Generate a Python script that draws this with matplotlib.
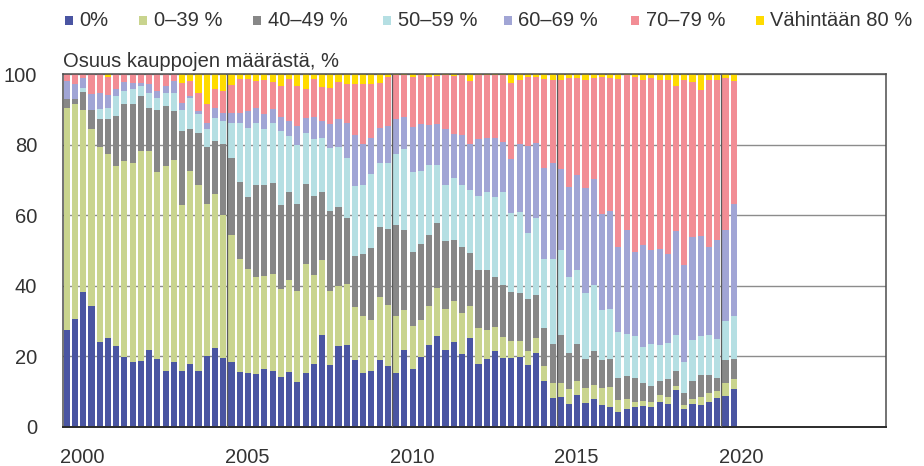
import numpy as np
import matplotlib
matplotlib.use("Agg")
import matplotlib.pyplot as plt
from matplotlib.patches import Rectangle

# ---------------- data (quarterly, 2000Q1 - 2020Q2), % of transactions ----------------
first_year = 2000
n_quarters = 82
year_ticks = [2000, 2005, 2010, 2015, 2020]
series_labels = ["0%", "0\u201339 %", "40\u201349 %", "50\u201359 %", "60\u201369 %", "70\u201379 %", "V\u00e4hint\u00e4\u00e4n 80 %"]

share_0 = [27.3, 30.6, 38.3, 34.3, 24.1, 25.1, 23.0, 19.9, 18.5, 18.7, 21.8, 19.1, 15.9, 18.5, 15.9, 17.7, 15.9, 20.1, 22.2, 19.4,
           18.3, 15.5, 15.2, 15.0, 16.4, 15.9, 14.0, 15.5, 12.7, 15.2, 17.8, 26.1, 17.5, 22.9, 23.2, 19.0, 15.2, 15.9, 19.0, 17.3,
           15.2, 21.8, 16.4, 19.9, 23.2, 25.6, 21.8, 23.9, 20.6, 25.1, 17.8, 19.2, 21.5, 19.4, 19.4, 19.9, 17.5, 20.9, 13.1, 8.1,
           8.3, 6.4, 9.0, 6.6, 7.8, 6.2, 5.7, 4.1, 5.0, 5.5, 6.0, 5.5, 6.9, 6.4, 10.4, 5.0, 6.4, 6.2, 6.9, 8.2, 8.7, 10.6]
share_0_39 = [63.2, 60.9, 51.6, 50.1, 55.2, 52.2, 51.1, 55.5, 56.4, 59.5, 56.4, 53.1, 58.2, 57.3, 47.1, 54.8, 52.8, 43.2, 43.7, 40.8,
              36.0, 32.2, 29.6, 27.4, 26.3, 27.4, 25.2, 26.2, 25.9, 31.0, 25.3, 21.3, 21.1, 16.9, 17.4, 15.1, 16.3, 14.4, 17.7, 17.3,
              16.3, 11.2, 12.3, 10.4, 11.1, 13.7, 11.6, 11.9, 11.6, 9.2, 10.2, 8.3, 6.7, 6.0, 5.0, 4.5, 4.0, 4.2, 4.0, 4.2,
              4.2, 4.3, 4.1, 4.3, 4.0, 4.7, 5.7, 3.5, 2.9, 1.4, 1.3, 1.4, 2.1, 1.9, 1.2, 1.2, 1.5, 2.1, 2.8, 1.9, 3.8, 2.9]
share_40_49 = [2.6, 1.6, 5.2, 5.6, 7.9, 9.9, 14.1, 16.1, 16.6, 15.6, 12.3, 17.8, 16.9, 13.8, 20.9, 12.1, 14.7, 16.1, 15.1, 19.9,
               22.0, 21.8, 20.4, 26.3, 25.8, 25.9, 23.8, 24.8, 24.7, 22.8, 22.5, 19.2, 22.5, 22.5, 18.5, 14.2, 17.5, 20.4, 20.0, 21.6,
               25.7, 22.7, 20.8, 21.5, 20.0, 18.5, 19.4, 17.3, 18.8, 15.0, 16.5, 17.0, 14.3, 14.9, 13.8, 13.5, 14.7, 12.3, 10.9, 11.1,
               13.6, 10.2, 10.4, 8.3, 9.7, 7.9, 7.8, 6.1, 6.5, 6.8, 5.2, 4.7, 4.1, 5.2, 4.2, 3.3, 5.2, 6.4, 5.0, 3.8, 6.3, 5.6]
share_50_59 = [0.0, 0.0, 1.1, 0.0, 3.0, 3.3, 5.6, 3.8, 4.2, 2.9, 4.3, 3.4, 3.8, 5.2, 6.1, 8.8, 5.2, 5.0, 6.7, 6.6,
               9.8, 16.8, 19.6, 17.6, 16.1, 17.1, 20.9, 16.0, 16.5, 14.4, 15.9, 15.4, 18.0, 17.1, 17.2, 19.9, 19.7, 20.9, 18.0, 18.5,
               20.1, 23.0, 22.7, 20.9, 20.1, 16.6, 15.9, 17.5, 17.7, 18.0, 21.1, 22.0, 22.6, 26.2, 22.5, 23.0, 18.8, 21.7, 19.6, 24.2,
               24.1, 21.6, 20.9, 18.7, 18.8, 14.2, 14.2, 13.3, 12.0, 12.1, 10.1, 11.9, 10.1, 10.2, 10.3, 9.0, 11.4, 10.9, 11.2, 11.0, 11.1, 12.2]
share_60_69 = [5.0, 4.1, 2.7, 4.3, 4.6, 3.5, 1.9, 2.5, 1.9, 0.9, 2.4, 1.9, 1.9, 3.3, 1.9, 0.4, 1.0, 1.9, 2.8, 2.4,
               3.0, 2.6, 4.8, 4.0, 4.0, 3.9, 4.1, 4.2, 5.5, 4.3, 6.5, 4.7, 6.7, 8.0, 10.0, 14.7, 11.4, 10.4, 10.1, 10.6,
               10.1, 9.3, 12.8, 13.1, 11.1, 11.4, 15.8, 12.6, 14.0, 12.8, 15.9, 15.5, 16.9, 14.3, 15.3, 19.2, 24.6, 21.3, 25.9, 27.3,
               22.8, 25.5, 27.0, 29.7, 30.1, 27.4, 27.7, 23.9, 29.3, 23.7, 29.1, 26.5, 27.2, 25.3, 29.4, 27.3, 29.2, 28.4, 25.1, 28.2, 26.0, 32.0]
share_70_79 = [1.9, 2.8, 1.1, 5.7, 5.2, 5.3, 4.3, 2.2, 2.4, 2.4, 2.8, 4.7, 3.3, 1.9, 5.7, 4.3, 5.2, 5.2, 5.2, 6.2,
               7.8, 9.7, 9.0, 7.8, 9.7, 7.6, 8.7, 11.9, 11.4, 8.2, 10.6, 9.8, 10.4, 10.5, 10.9, 14.3, 17.1, 15.2, 12.8, 14.0,
               12.3, 11.7, 14.3, 13.9, 13.8, 13.7, 15.2, 16.3, 17.0, 18.0, 18.2, 17.7, 17.7, 18.9, 21.6, 18.2, 19.7, 18.9, 25.3, 23.5,
               25.4, 31.0, 27.6, 30.8, 28.5, 38.9, 37.9, 47.7, 44.0, 49.8, 46.7, 49.0, 48.0, 49.4, 41.2, 52.6, 44.1, 41.5, 47.4, 45.3, 43.1, 34.8]
share_80_plus = [0.0, 0.0, 0.0, 0.0, 0.0, 0.7, 0.0, 0.0, 0.0, 0.0, 0.0, 0.0, 0.0, 0.0, 2.4, 1.9, 5.2, 8.5, 4.3, 4.7,
                 3.1, 1.4, 1.4, 1.9, 1.7, 2.2, 3.3, 1.4, 3.3, 4.1, 1.4, 3.5, 3.8, 2.1, 2.8, 2.8, 2.8, 2.8, 2.4, 0.7,
                 0.3, 0.3, 0.7, 0.3, 0.7, 0.5, 0.3, 0.5, 0.3, 1.9, 0.3, 0.3, 0.3, 0.3, 2.4, 1.7, 0.7, 0.7, 1.2, 1.6,
                 1.6, 1.0, 1.0, 1.6, 1.1, 0.7, 1.0, 1.4, 0.3, 0.7, 1.6, 1.0, 1.6, 1.6, 3.3, 1.6, 2.2, 4.5, 1.6, 1.6, 1.0, 1.9]

series = [share_0, share_0_39, share_40_49, share_50_59, share_60_69, share_70_79, share_80_plus]
colors = ["#4a55a2", "#c9d48e", "#878787", "#b5dfe3", "#a1a5d5", "#f28d95", "#ffdb00"]

# ---------------- figure ----------------
plt.rcParams["font.family"] = ["Liberation Sans", "DejaVu Sans"]
text_color = "#333333"
fs = 14.5

W, H = 924, 466
fig = plt.figure(figsize=(W / 100, H / 100), dpi=100)
ax = fig.add_axes([62.7 / W, 1 - 426.7 / H, (886 - 62.7) / W, (426.7 - 74.3) / H])

x = first_year + (np.arange(n_quarters) + 0.5) / 4.0
bottom = np.zeros(n_quarters)
for vals, col in zip(series, colors):
    v = np.array(vals)
    ax.bar(x, v, width=0.185, bottom=bottom, color=col, linewidth=0, zorder=2)
    bottom += v

ax.set_xlim(2000, 2025)
ax.set_ylim(0, 100)
ax.set_yticks([0, 20, 40, 60, 80, 100])
ax.set_xticks([y + 0.6 for y in year_ticks])
ax.set_xticklabels([str(y) for y in year_ticks])
ax.tick_params(axis="both", length=0, labelsize=fs, colors=text_color)
ax.tick_params(axis="y", pad=18.5)
ax.tick_params(axis="x", pad=15)

ax.yaxis.grid(True, color="#8c8c8c", linewidth=1.0, zorder=0)
ax.set_axisbelow(True)
for yr in year_ticks[1:]:
    ax.axvline(yr, color="#5a5a5a", linewidth=0.9, zorder=3)

for side in ["left", "right", "top", "bottom"]:
    ax.spines[side].set_color("#4d4d4d")
    ax.spines[side].set_linewidth(1.1)
ax.spines["bottom"].set_color("#2b2b2b")
ax.spines["bottom"].set_linewidth(1.4)

fig.text(62.7 / W, 1 - 66.7 / H, "Osuus kauppojen m\u00e4\u00e4r\u00e4st\u00e4, %", fontsize=fs,
         color=text_color, ha="left", va="baseline")

# legend drawn manually
marker_left = [65, 139, 253, 383, 504, 631, 756]
for ml, lab, col in zip(marker_left, series_labels, colors):
    fig.patches.append(Rectangle((ml / W, 1 - 24.5 / H), 8 / W, 8 / H, transform=fig.transFigure,
                                 facecolor=col, edgecolor="none"))
    fig.text((ml + 14.5) / W, 1 - 25.5 / H, lab, fontsize=fs, color=text_color, ha="left", va="baseline")

fig.savefig("out.png", dpi=100, facecolor="white")
